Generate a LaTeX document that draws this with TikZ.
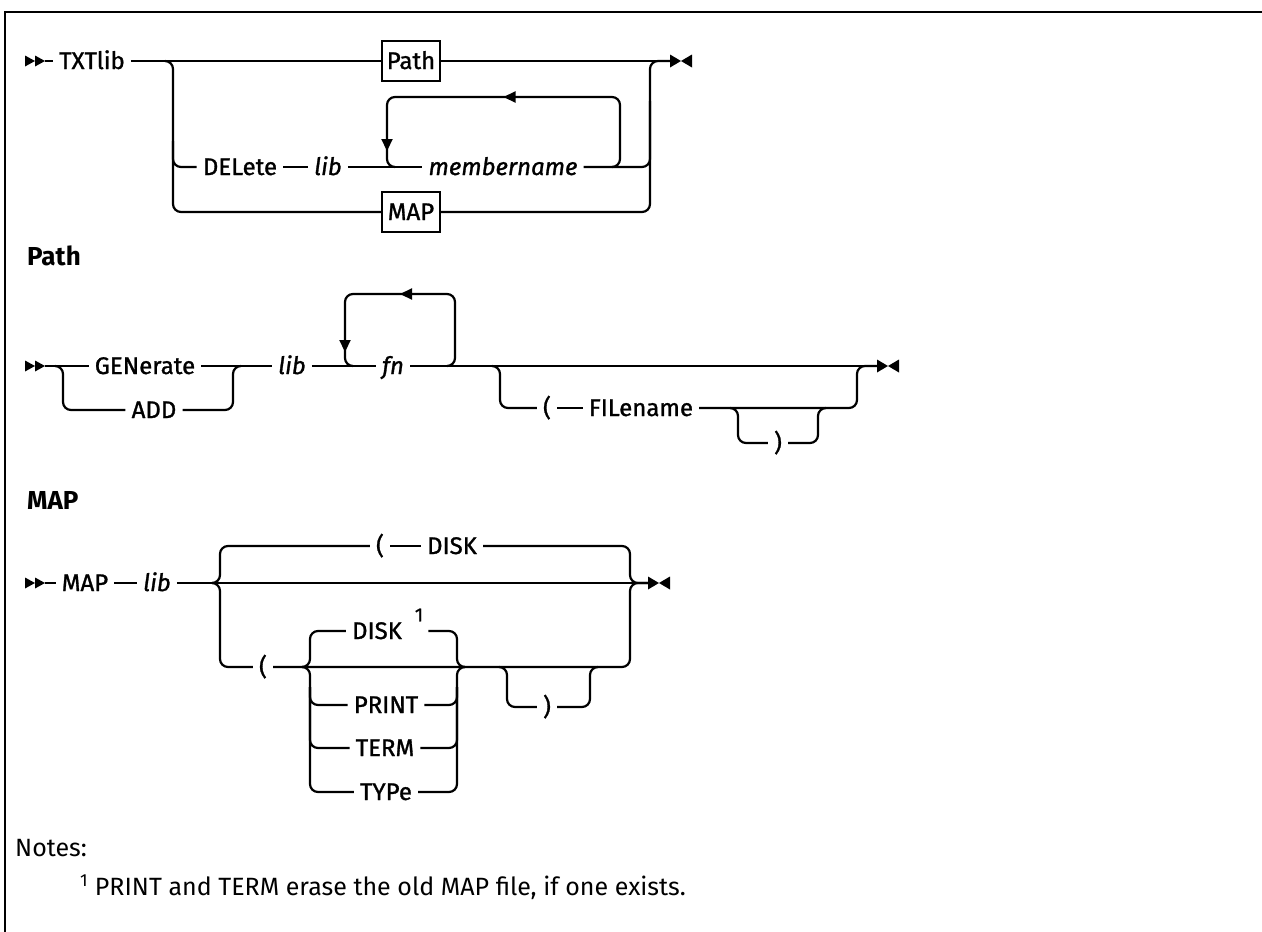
\documentclass[tikz,border=0pt]{standalone}
\usepackage{fontspec}
\setmainfont{Fira Sans}
\newfontfamily\railfont[FakeBold=1.2]{Fira Sans}
\usetikzlibrary{arrows.meta,positioning,calc}

\newcommand{\railsize}{\railfont\fontsize{24}{28}\selectfont}
\newcommand{\notesize}{\fontsize{25}{30}\selectfont}
% double head at the start of a syntax line, ending at #1
\newcommand{\railstart}[1]{%
  \fill (#1) ++(-20,-5.5) -- ++(10,5.5) -- ++(-10,5.5) -- cycle
        (#1) ++(-10,-5.5) -- ++(10,5.5) -- ++(-10,5.5) -- cycle;}
% end of a syntax line, starting at #1
\newcommand{\railstop}[1]{%
  \fill (#1) ++(0,-6.5) -- ++(11,6.5) -- ++(-11,6.5) -- cycle
        (#1) ++(22,-6.5) -- ++(-11,6.5) -- ++(11,6.5) -- cycle;}

\begin{document}
\begin{tikzpicture}[
  x=1pt, y=-1pt,
  rail/.style={line width=2.2pt, rounded corners=8pt},
  back/.style={line width=2.2pt, -{Triangle[length=12pt, width=11pt]}},
  lbl/.style={inner xsep=6pt, inner ysep=0pt, text height=16pt,
    text depth=0pt, font=\railsize},
  var/.style={lbl, font=\railsize\itshape},
  refbox/.style={draw, line width=2.2pt, minimum width=58pt,
    minimum height=40pt, inner sep=0pt, text height=16pt, text depth=0pt,
    font=\railsize},
  head/.style={anchor=west, inner sep=0pt, font=\fontsize{26}{30}\selectfont\bfseries},
  note/.style={anchor=west, inner sep=0pt, font=\notesize},
  supmark/.style={inner sep=0pt, font=\railfont\fontsize{19}{22}\selectfont}
]
\useasboundingbox (0,0) rectangle (1262,932);
\draw[line width=2.5pt] (5,932) -- (5,12) -- (1262,12);

% TXTlib
\coordinate (s1) at (45,61);
\coordinate (j1) at (173,61);
\coordinate (j2) at (650,61);
\coordinate (e1) at (670,61);
\coordinate (lpL1) at (387,97);
\coordinate (lpR1) at (620,97);
\node[lbl] (txtlib) at (92,61) {TXTlib};
\node[refbox] (pathref) at (411,61) {Path};
\node[lbl] (delete) at (240,167) {DELete};
\node[var] (lib1) at (328,167) {lib};
\node[var] (member) at (503,167) {membername};
\node[refbox] (mapref) at (411,212) {MAP};
\railstart{s1}
\draw[rail] (s1) -- (txtlib);
\draw[rail] (txtlib) -- (pathref);
\draw[rail] (pathref) -- (e1);
\draw[rail] ([xshift=-8pt]j1) -| (j1 |- mapref) -- (mapref);
\draw[rail] (j1) ++(0,80) |- (delete);
\draw[rail] (delete) -- (lib1);
\draw[rail] (lib1) -- (member);
\draw[rail] (member) -| ([yshift=-40pt]j2);
\draw[rail] (mapref) -| (j2) -- (e1);
\draw[rail] ([xshift=-8pt]lpR1 |- member) -| (lpR1) -| (lpL1 |- member) -- ++(8,0);
\draw[back] ($(lpL1)!0.5!(lpR1)+(16,0)$) -- ($(lpL1)!0.5!(lpR1)$);
\draw[back] (lpL1) ++(0,30) -- ++(0,24);
\railstop{e1}

% Path
\node[head] (pathhead) at (27,256) {Path};
\coordinate (s2) at (45,366);
\coordinate (j3) at (63,366);
\coordinate (j4) at (233,366);
\coordinate (lpL2) at (345,294);
\coordinate (lpR2) at (455,294);
\coordinate (j5) at (500,366);
\coordinate (j6) at (857,366);
\coordinate (e2) at (877,366);
\coordinate (j7) at (738,408);
\coordinate (j8) at (818,408);
\node[lbl] (generate) at (145,366) {GENerate};
\node[lbl] (add) at (154,410) {ADD};
\node[var] (lib2) at (292,366) {lib};
\node[var] (fn) at (393,366) {fn};
\node[lbl] (lparen2) at (547,408) {(};
\node[lbl] (filename) at (641,408) {FILename};
\node[lbl] (rparen2) at (778,443) {)};
\railstart{s2}
\draw[rail] (s2) -- (generate);
\draw[rail] (generate) -- (lib2);
\draw[rail] ([xshift=-8pt]j3) -| (j3 |- add) -- (add);
\draw[rail] (add) -| (j4) -- ++(8,0);
\draw[rail] (lib2) -- (fn);
\draw[rail] (fn) -- (e2);
\draw[rail] ([xshift=-8pt]lpR2 |- fn) -| (lpR2) -| (lpL2 |- fn) -- ++(8,0);
\draw[back] ($(lpL2)!0.5!(lpR2)+(16,0)$) -- ($(lpL2)!0.5!(lpR2)$);
\draw[back] (lpL2) ++(0,34) -- ++(0,24);
\draw[rail] ([xshift=-8pt]j5) -| (j5 |- lparen2) -- (lparen2);
\draw[rail] (lparen2) -- (filename);
\draw[rail] (filename) -| (j6) -- (e2);
\draw[rail] ([xshift=-8pt]j7) -| (j7 |- rparen2) -- (rparen2);
\draw[rail] (rparen2) -| (j8) -- ++(8,0);
\railstop{e2}

% MAP
\node[head] (maphead) at (27,500) {MAP};
\coordinate (s3) at (45,583);
\coordinate (j9) at (220,583);
\coordinate (j10) at (630,583);
\coordinate (e3) at (648,583);
\coordinate (j11) at (310,667);
\coordinate (j12) at (457,667);
\coordinate (j13) at (507,667);
\coordinate (j14) at (590,667);
\node[lbl] (map3) at (85,583) {MAP};
\node[var] (lib3) at (157,583) {lib};
\node[lbl] (lparen3) at (380,546) {(};
\node[lbl] (disk3) at (452,546) {DISK};
\node[lbl] (lparen4) at (263,667) {(};
\node[lbl] (disk4) at (377,631) {DISK};
\node[supmark] (supone) at (419,615) {1};
\node[lbl] (print4) at (386,705) {PRINT};
\node[lbl] (term4) at (385,748) {TERM};
\node[lbl] (type4) at (386,792) {TYPe};
\node[lbl] (rparen3) at (547,707) {)};
\railstart{s3}
\draw[rail] (s3) -- (map3);
\draw[rail] (map3) -- (lib3);
\draw[rail] (lib3) -- (e3);
\draw[rail] ([xshift=-8pt]j9) -| (j9 |- lparen3) -- (lparen3);
\draw[rail] (lparen3) -- (disk3);
\draw[rail] (disk3) -| (j10) -- (e3);
\draw[rail] ([xshift=-8pt]j9) -| (j9 |- lparen4) -- (lparen4);
\draw[rail] (lparen4) -| (j10) -- (e3);
\draw[rail] ([xshift=-8pt]j11) -| (j11 |- disk4) -- (disk4);
\draw[rail] ([xshift=5pt]supone.east |- disk4) -| (j12) -- ++(8,0);
\draw[rail] ([xshift=-8pt]j11) -| (j11 |- type4) -- (type4);
\draw[rail] (j11) ++(0,20) |- (print4);
\draw[rail] (j11) ++(0,20) |- (term4);
\draw[rail] (type4) -| (j12) -- ++(8,0);
\draw[rail] (print4) -| ([yshift=-20pt]j12);
\draw[rail] (term4) -| ([yshift=-20pt]j12);
\draw[rail] ([xshift=-8pt]j13) -| (j13 |- rparen3) -- (rparen3);
\draw[rail] (rparen3) -| (j14) -- ++(8,0);
\railstop{e3}

% notes
\node[note] (notes) at (15,848) {Notes:};
\node[note] (note1) at (80,887) {\textsuperscript{1} PRINT and TERM erase the old MAP file, if one exists.};
\end{tikzpicture}
\end{document}
